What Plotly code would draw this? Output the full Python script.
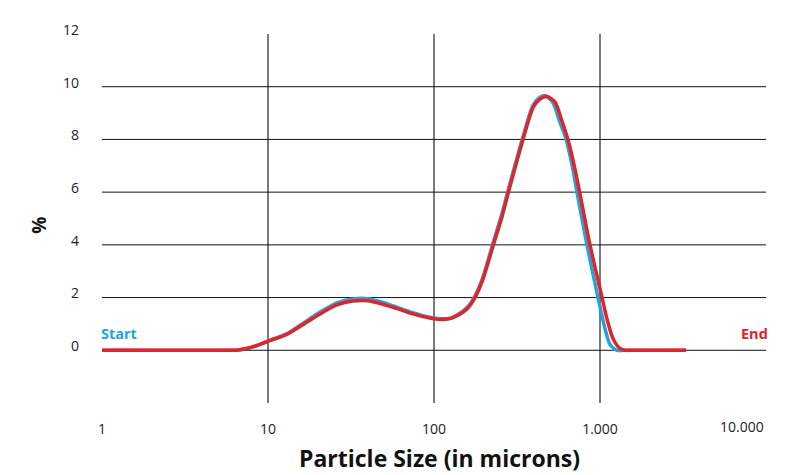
import plotly.graph_objects as go

# Particle size (microns) and distribution (%)
start_x = [1, 3, 6, 6.6, 7.3, 8.3, 10, 13, 16.2, 20.6, 26, 32.5, 40, 49.3, 62, 74.7, 90, 108.7, 125, 134, 158, 177, 197, 227, 257, 279, 344, 395, 435, 470, 520, 570, 625, 680, 730, 835, 972, 1072, 1149, 1266, 1400, 3300]
start_y = [0, 0, 0, 0.01, 0.06, 0.16, 0.36, 0.63, 1.02, 1.45, 1.8, 1.95, 1.96, 1.82, 1.6, 1.43, 1.28, 1.2, 1.22, 1.3, 1.62, 2.08, 2.78, 4.08, 5.2, 6.05, 8.12, 9.3, 9.6, 9.66, 9.4, 8.7, 8.0, 7.0, 5.93, 3.99, 2.01, 0.82, 0.22, 0, 0, 0]

end_x = [1, 3, 6, 6.6, 7.3, 8.3, 10, 13, 16.2, 20.6, 26, 32.5, 40, 49.3, 62, 74.7, 90, 108.7, 125, 134, 158, 177, 197, 227, 257, 279, 344, 395, 435, 480, 536, 590, 641, 700, 758, 871, 1028, 1102, 1197, 1319, 1415, 1550, 3300]
end_y = [0, 0, 0, 0.01, 0.06, 0.15, 0.34, 0.6, 0.97, 1.38, 1.72, 1.87, 1.88, 1.74, 1.55, 1.38, 1.25, 1.17, 1.2, 1.27, 1.57, 2.01, 2.69, 3.96, 5.07, 5.93, 8.0, 9.2, 9.53, 9.63, 9.42, 8.7, 8.0, 7.0, 5.93, 3.99, 2.01, 1.19, 0.45, 0.07, 0, 0, 0]

y_ticks = [0, 2, 4, 6, 8, 10, 12]
y_grid = [0, 2, 4, 6, 8, 10]
x_ticks = [1, 10, 100, 1000]
x_ticktext = ["1", "10", "100", "1.000"]
x_grid = [10, 100, 1000]

BLUE = "#1ea5dd"
RED = "#e3232a"
FONT = "Open Sans"

fig = go.Figure()
fig.add_trace(go.Scatter(x=start_x, y=start_y, mode="lines", name="Start",
                         line=dict(color=BLUE, width=3.5, shape="spline", smoothing=0.7)))
fig.add_trace(go.Scatter(x=end_x, y=end_y, mode="lines", name="End",
                         line=dict(color=RED, width=3.5, shape="spline", smoothing=0.7)))

for v in x_grid:
    fig.add_shape(type="line", xref="x", yref="paper", x0=v, x1=v, y0=0, y1=1,
                  line=dict(color="#7a7a7a", width=2), layer="below")
for v in y_grid:
    fig.add_shape(type="line", xref="paper", yref="y", x0=0, x1=1, y0=v, y1=v,
                  line=dict(color="#111111", width=1), layer="below")

fig.add_annotation(x=4, y=0, xref="x", yref="paper", text="10.000", showarrow=False,
                   xanchor="right", yanchor="middle", yshift=-23,
                   font=dict(family=FONT, size=14, color="#222"))
fig.add_annotation(x=0, y=0, xref="x", yref="y", text="<b>Start</b>", showarrow=False,
                   xanchor="left", yanchor="bottom", yshift=5, xshift=-3,
                   font=dict(family=FONT, size=14.5, color=BLUE))
fig.add_annotation(x=1, y=0, xref="paper", yref="y", text="<b>End</b>", showarrow=False,
                   xanchor="right", yanchor="bottom", yshift=5, xshift=4,
                   font=dict(family=FONT, size=14.5, color=RED))
fig.add_annotation(x=0.509, y=-0.149, xref="paper", yref="paper", text="<b>Particle Size (in microns)</b>",
                   showarrow=False, xanchor="center", yanchor="middle",
                   font=dict(family=FONT, size=23, color="#111"))
fig.add_annotation(x=-0.096, y=0.481, xref="paper", yref="paper", text="<b>%</b>", textangle=-90,
                   showarrow=False, xanchor="center", yanchor="middle",
                   font=dict(family=FONT, size=19, color="#111"))

fig.update_layout(
    width=805, height=475,
    margin=dict(l=94, r=47, t=19, b=80),
    paper_bgcolor="white", plot_bgcolor="white",
    showlegend=False,
    font=dict(family=FONT, size=14, color="#222"),
    xaxis=dict(type="log", range=[0, 4], tickvals=x_ticks, ticktext=x_ticktext,
               showgrid=False, zeroline=False, showline=False, ticks="",
               ticklabelstandoff=16),
    yaxis=dict(range=[-2, 12], tickvals=y_ticks, showgrid=False, zeroline=False,
               showline=False, ticks="", ticklabelstandoff=22, ticklabelshift=-4),
)

fig.write_html("out.html")
